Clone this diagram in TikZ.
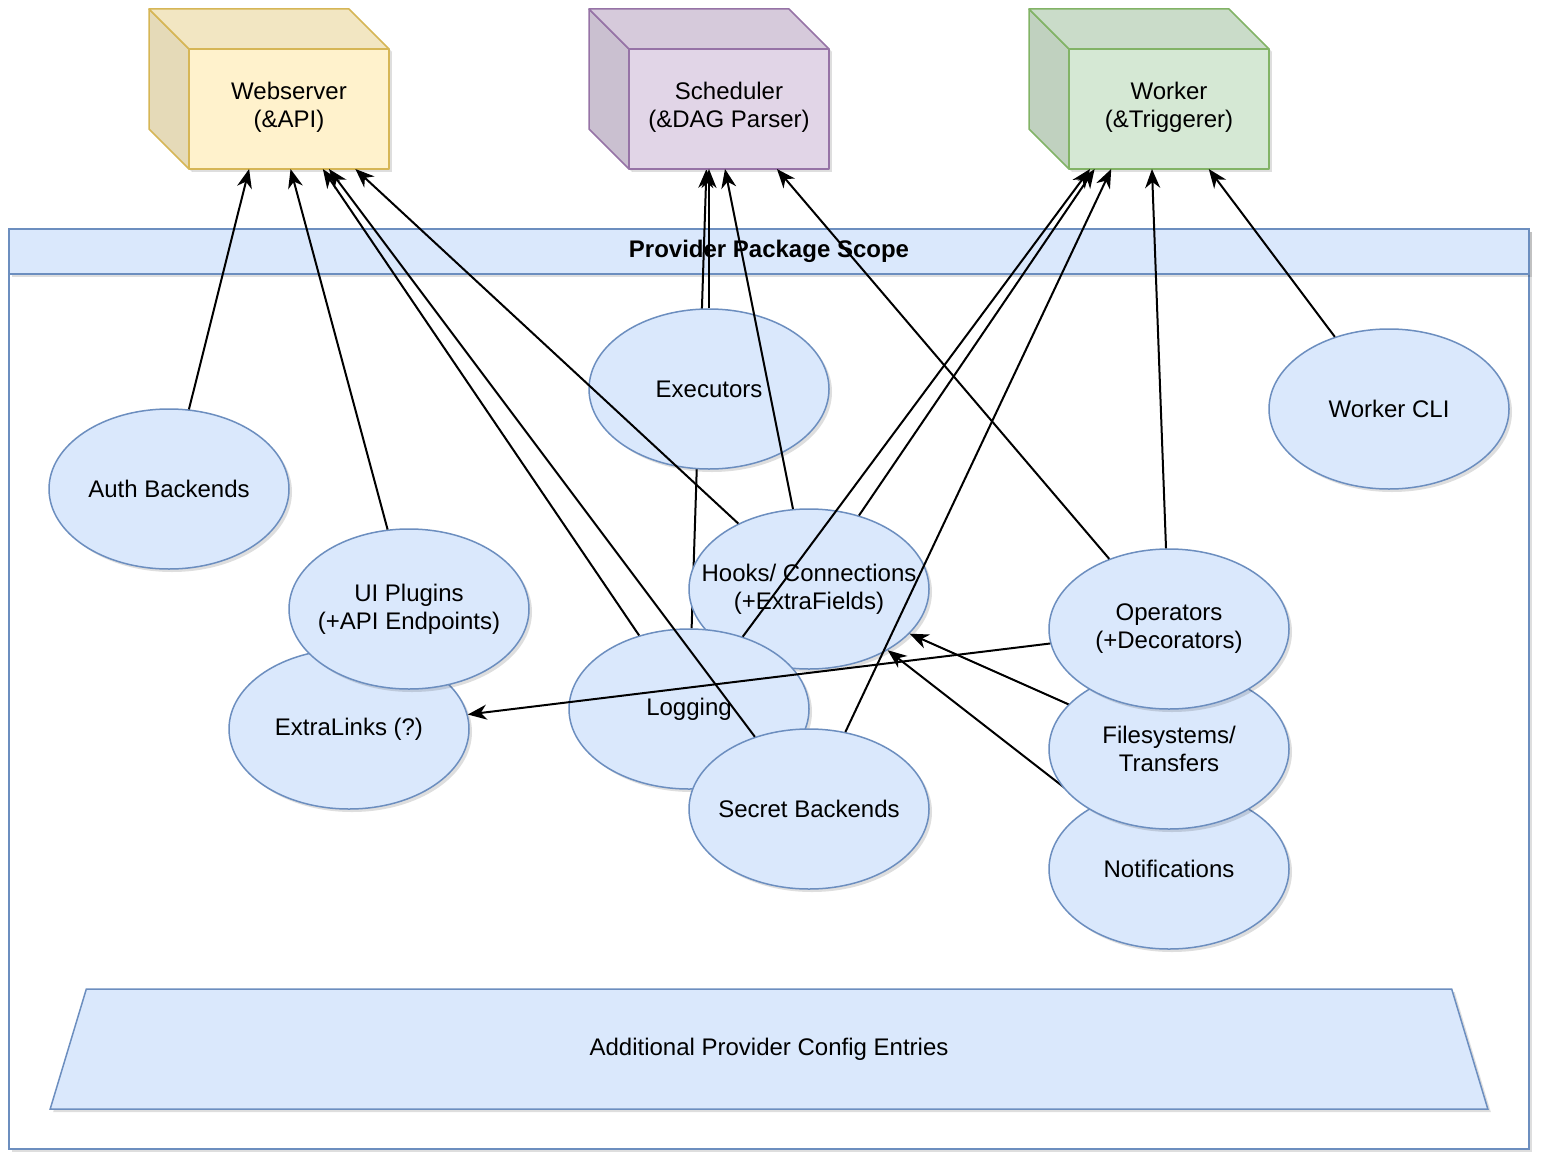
\documentclass[tikz,border=0pt]{standalone}
\usepackage{fontspec}
\setmainfont{Liberation Sans}
\usepackage{tikz}
\usetikzlibrary{arrows.meta, shapes.geometric, calc, shadows}
\usepackage{xcolor}
\definecolor{provfill}{HTML}{DAE8FC}
\definecolor{provline}{HTML}{6C8EBF}
\definecolor{webfill}{HTML}{FFF2CC}
\definecolor{webline}{HTML}{D6B656}
\definecolor{schedfill}{HTML}{E1D5E7}
\definecolor{schedline}{HTML}{9673A6}
\definecolor{workfill}{HTML}{D5E8D4}
\definecolor{workline}{HTML}{82B366}
\pgfdeclarelayer{bg}
\pgfdeclarelayer{behind}
\pgfsetlayers{bg,behind,main}

\begin{document}
\begin{tikzpicture}[
        x=1pt, y=-1pt,
        font=\fontsize{24}{28}\selectfont,
        softshadow/.style={
            drop shadow={shadow xshift=3pt, shadow yshift=-3pt, opacity=0.13, fill=black}
        },
        comp/.style={
            ellipse,
            draw=provline,
            fill=provfill,
            line width=1.5pt,
            softshadow,
            align=center,
            inner xsep=-30pt,
            inner ysep=0pt,
            minimum width=240pt,
            minimum height=160pt
        },
        container/.style={
            rectangle,
            draw=provline,
            fill=white,
            line width=1.5pt,
            softshadow,
            minimum width=1520pt,
            minimum height=920pt
        },
        header/.style={
            rectangle,
            draw=provline,
            fill=provfill,
            line width=1.5pt,
            softshadow,
            font=\fontsize{24}{28}\selectfont\bfseries,
            minimum width=1520pt,
            minimum height=45pt
        },
        cfgbox/.style={
            trapezium,
            trapezium left angle=71.565,
            trapezium right angle=71.565,
            trapezium stretches=true,
            draw=provline,
            fill=provfill,
            line width=1.5pt,
            softshadow,
            minimum width=1440pt,
            minimum height=120pt
        },
        cubebox/.style={
            rectangle,
            inner sep=0pt,
            outer sep=0pt,
            minimum width=240pt,
            minimum height=160pt
        },
        cubeface/.style={
            line width=1.5pt,
            line join=round,
            softshadow
        },
        cubetext/.style={
            align=center
        },
        arrow/.style={
            -{Stealth[length=19pt, width=15pt, inset=6pt]},
            line width=2pt,
            draw=black
        }
    ]
    \useasboundingbox (0,0) rectangle (1542,1164);

    \begin{pgfonlayer}{bg}
        \node (scope) [container] at (769,689) {};
        \node (scopehead) [header] at (769,251.5) {Provider Package Scope};
    \end{pgfonlayer}

    \node (web) [cubebox] at (269,89) {};
    \filldraw [cubeface, fill=webfill!90!black, draw=webline] (web.north west) -- ($(web.north west)+(40,40)$) -- ($(web.south west)+(40,0)$) -- ($(web.south west)+(0,-40)$) -- cycle;
    \filldraw [cubeface, fill=webfill!95!black, draw=webline] (web.north west) -- ($(web.north east)+(-40,0)$) -- ($(web.north east)+(0,40)$) -- ($(web.north west)+(40,40)$) -- cycle;
    \filldraw [cubeface, fill=webfill, draw=webline] ($(web.north west)+(40,40)$) rectangle (web.south east);
    \node (webtxt) [cubetext] at ($(web.center)+(20,18)$) {Webserver\\(\&API)};

    \node (sched) [cubebox] at (709,89) {};
    \filldraw [cubeface, fill=schedfill!90!black, draw=schedline] (sched.north west) -- ($(sched.north west)+(40,40)$) -- ($(sched.south west)+(40,0)$) -- ($(sched.south west)+(0,-40)$) -- cycle;
    \filldraw [cubeface, fill=schedfill!95!black, draw=schedline] (sched.north west) -- ($(sched.north east)+(-40,0)$) -- ($(sched.north east)+(0,40)$) -- ($(sched.north west)+(40,40)$) -- cycle;
    \filldraw [cubeface, fill=schedfill, draw=schedline] ($(sched.north west)+(40,40)$) rectangle (sched.south east);
    \node (schedtxt) [cubetext] at ($(sched.center)+(20,18)$) {Scheduler\\(\&DAG Parser)};

    \node (work) [cubebox] at (1149,89) {};
    \filldraw [cubeface, fill=workfill!90!black, draw=workline] (work.north west) -- ($(work.north west)+(40,40)$) -- ($(work.south west)+(40,0)$) -- ($(work.south west)+(0,-40)$) -- cycle;
    \filldraw [cubeface, fill=workfill!95!black, draw=workline] (work.north west) -- ($(work.north east)+(-40,0)$) -- ($(work.north east)+(0,40)$) -- ($(work.north west)+(40,40)$) -- cycle;
    \filldraw [cubeface, fill=workfill, draw=workline] ($(work.north west)+(40,40)$) rectangle (work.south east);
    \node (worktxt) [cubetext] at ($(work.center)+(20,18)$) {Worker\\(\&Triggerer)};

    \node (auth) [comp] at (169,489) {Auth Backends};
    \node (extlinks) [comp] at (349,729) {ExtraLinks (?)};
    \node (uiplug) [comp] at (409,609) {UI Plugins\\(+API Endpoints)};
    \node (execs) [comp] at (709,389) {Executors};
    \node (hooks) [comp] at (809,589) {Hooks/ Connections\\(+ExtraFields)};
    \node (logging) [comp] at (689,709) {Logging};
    \node (secrets) [comp] at (809,809) {Secret Backends};
    \node (workcli) [comp] at (1389,409) {Worker CLI};
    \node (notif) [comp] at (1169,869) {Notifications};
    \node (filesys) [comp] at (1169,749) {Filesystems/\\Transfers};
    \node (operators) [comp] at (1169,629) {Operators\\(+Decorators)};

    \node (cfg) [cfgbox] at (769,1049) {Additional Provider Config Entries};

    \begin{pgfonlayer}{behind}
        \draw [arrow] (logging) -- (sched);
        \draw [arrow] (notif) -- (hooks);
    \end{pgfonlayer}

    \draw [arrow] (auth) -- (web);
    \draw [arrow] (uiplug) -- (web);
    \draw [arrow] (logging) -- (web);
    \draw [arrow] (secrets) -- (web);
    \draw [arrow] (hooks) -- (web);
    \draw [arrow] (execs) -- (sched);
    \draw [arrow] (hooks) -- (sched);
    \draw [arrow] (operators) -- (sched);
    \draw [arrow] (hooks) -- (work);
    \draw [arrow] (logging) -- (work);
    \draw [arrow] (secrets) -- (work);
    \draw [arrow] (operators) -- (work);
    \draw [arrow] (workcli) -- (work);
    \draw [arrow] (operators) -- (extlinks);
    \draw [arrow] (filesys) -- (hooks);
\end{tikzpicture}
\end{document}
